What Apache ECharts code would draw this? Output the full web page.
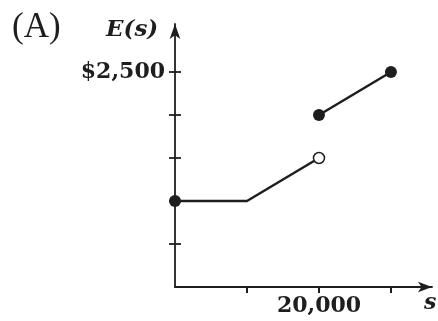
<!DOCTYPE html>
<html><head><meta charset="utf-8">
<script src="https://cdn.jsdelivr.net/npm/echarts@6/dist/echarts.min.js"></script>
<style>html,body{margin:0;padding:0;background:#fff}#c{width:438px;height:321px}</style>
</head><body><div id="c"></div>
<script>
const lowerX = [0, 10000, 20000];
const lowerY = [1000, 1000, 1500];
const upperX = [20000, 30000];
const upperY = [2000, 2500];
const closedX = [0, 20000, 30000];
const closedY = [1000, 2000, 2500];
const openX = [20000];
const openY = [1500];
const xTickValues = [10000, 20000, 30000];
const yTickValues = [500, 1000, 1500, 2000, 2500];
const xLabelValues = [20000];
const yLabelValues = [2500];

const zip = (a, b) => a.map((v, i) => [v, b[i]]);
const ink = '#1e1e1e';
const serif = '"DejaVu Serif", "Liberation Serif", serif';

function mkX(inside, show) {
  return {
    type: 'value', min: 0, max: 35700, splitLine: {show: false},
    axisLine: {show: show, symbol: ['none', 'arrow'], symbolSize: [8, 14], lineStyle: {color: ink, width: 1.8}},
    axisTick: {show: true, inside: inside, length: 6, customValues: xTickValues, lineStyle: {color: ink, width: 1.8}},
    axisLabel: {show: !inside, customValues: xLabelValues, margin: 8, color: ink, fontFamily: serif, fontWeight: 'bold', fontSize: 22,
      formatter: v => v.toLocaleString('en-US')}
  };
}
function mkY(inside, show) {
  return {
    type: 'value', min: 0, max: 3058, position: 'left', splitLine: {show: false},
    axisLine: {show: show, symbol: ['none', 'arrow'], symbolSize: [8, 15], lineStyle: {color: ink, width: 1.8}},
    axisTick: {show: true, inside: inside, length: 6, customValues: yTickValues, lineStyle: {color: ink, width: 1.8}},
    axisLabel: {show: !inside, customValues: yLabelValues, margin: 10, color: ink, fontFamily: serif, fontWeight: 'bold', fontSize: 22,
      formatter: v => '$' + v.toLocaleString('en-US')}
  };
}

const chart = echarts.init(document.getElementById('c'), null, {renderer: 'canvas'});
chart.setOption({
  animation: false,
  backgroundColor: '#fff',
  grid: {left: 175, right: 6, top: 24, bottom: 34, containLabel: false},
  xAxis: [mkX(false, true), mkX(true, false)],
  yAxis: [mkY(false, true), mkY(true, false)],
  graphic: [
    {type: 'text', left: 12, top: 10, style: {text: '(A)', font: '35px "Liberation Serif", serif', fill: ink}},
    {type: 'text', left: 106, top: 19, style: {text: 'E(s)', font: 'italic bold 23px "DejaVu Serif", serif', fill: ink}},
    {type: 'text', left: 424, top: 292, style: {text: 's', font: 'italic bold 22px "DejaVu Serif", serif', fill: ink}}
  ],
  series: [
    {type: 'line', data: zip(lowerX, lowerY), showSymbol: false, lineStyle: {color: ink, width: 2.5}, clip: false},
    {type: 'line', data: zip(upperX, upperY), showSymbol: false, lineStyle: {color: ink, width: 2.5}, clip: false},
    {type: 'scatter', data: zip(closedX, closedY), symbol: 'circle', symbolSize: 12, itemStyle: {color: ink, opacity: 1}, clip: false, z: 5},
    {type: 'scatter', data: zip(openX, openY), symbol: 'circle', symbolSize: 11, itemStyle: {color: '#fff', borderColor: ink, borderWidth: 1.5, opacity: 1}, clip: false, z: 5}
  ]
});
</script></body></html>
